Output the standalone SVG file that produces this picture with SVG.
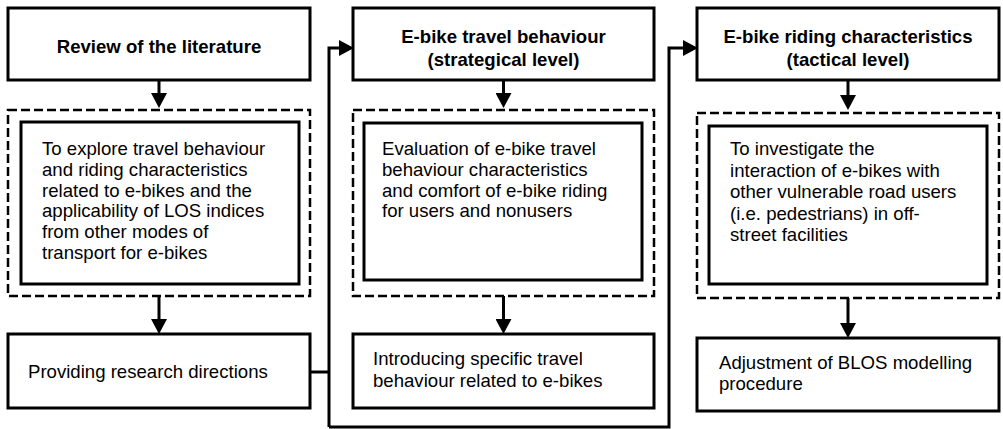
<svg xmlns="http://www.w3.org/2000/svg" width="1003" height="429" viewBox="0 0 1003 429">
<style>
.box{fill:#fff;stroke:#000;stroke-width:3}
.dash{fill:none;stroke:#000;stroke-width:2.5;stroke-dasharray:9 4}
.t{font-family:"Liberation Sans",Arial,sans-serif;font-size:18.6px;fill:#000}
.b{font-weight:bold;text-anchor:middle}
.con{fill:none;stroke:#000;stroke-width:3}
</style>
<defs>
<marker id="arr" markerUnits="userSpaceOnUse" markerWidth="16" markerHeight="16" refX="0" refY="8" orient="auto">
<path d="M0,0 L15,8 L0,16 Z" fill="#000"/>
</marker>
</defs>
<rect width="1003" height="429" fill="#fff"/>

<g id="connectors">
<line class="con" x1="159" y1="80" x2="159" y2="93" marker-end="url(#arr)"/>
<line class="con" x1="159" y1="296" x2="159" y2="319" marker-end="url(#arr)"/>
<line class="con" x1="503.5" y1="80" x2="503.5" y2="93" marker-end="url(#arr)"/>
<line class="con" x1="503.5" y1="296" x2="503.5" y2="319" marker-end="url(#arr)"/>
<line class="con" x1="848" y1="80" x2="848" y2="95" marker-end="url(#arr)"/>
<line class="con" x1="848" y1="298" x2="848" y2="323" marker-end="url(#arr)"/>
<line class="con" x1="310" y1="372" x2="329" y2="372"/>
<polyline class="con" points="329,427 329,48 339,48" marker-end="url(#arr)"/>
<polyline class="con" points="329,427 669,427 669,48 683,48" marker-end="url(#arr)"/>
</g>

<g id="review">
<rect class="box" x="8" y="8" width="302" height="72"/>
<text class="t b" x="159" y="53">Review of the literature</text>
</g>

<g id="explore">
<rect class="dash" x="8" y="110" width="302" height="186"/>
<rect class="box" x="21" y="122" width="278" height="162"/>
<text class="t" x="42" y="155">To explore travel behaviour</text>
<text class="t" x="42" y="176">and riding characteristics</text>
<text class="t" x="42" y="197">related to e-bikes and the</text>
<text class="t" x="42" y="217">applicability of LOS indices</text>
<text class="t" x="42" y="238">from other modes of</text>
<text class="t" x="42" y="259">transport for e-bikes</text>
</g>

<g id="directions">
<rect class="box" x="8" y="334" width="302" height="74"/>
<text class="t" x="28" y="378">Providing research directions</text>
</g>

<g id="travel">
<rect class="box" x="353" y="8" width="301" height="72"/>
<text class="t b" x="503.5" y="43">E-bike travel behaviour</text>
<text class="t b" x="503.5" y="66">(strategical level)</text>
</g>

<g id="evaluation">
<rect class="dash" x="353" y="110" width="301" height="186"/>
<rect class="box" x="364" y="123" width="278" height="157"/>
<text class="t" x="382" y="155">Evaluation of e-bike travel</text>
<text class="t" x="382" y="176">behaviour characteristics</text>
<text class="t" x="382" y="197">and comfort of e-bike riding</text>
<text class="t" x="382" y="217">for users and nonusers</text>
</g>

<g id="introducing">
<rect class="box" x="353" y="334" width="301" height="74"/>
<text class="t" x="373" y="365">Introducing specific travel</text>
<text class="t" x="373" y="387">behaviour related to e-bikes</text>
</g>

<g id="riding">
<rect class="box" x="697" y="8" width="302" height="72"/>
<text class="t b" x="848" y="43">E-bike riding characteristics</text>
<text class="t b" x="848" y="66">(tactical level)</text>
</g>

<g id="investigate">
<rect class="dash" x="697" y="113" width="302" height="185"/>
<rect class="box" x="709" y="126" width="278" height="158"/>
<text class="t" x="730" y="155">To investigate the</text>
<text class="t" x="730" y="176.5">interaction of e-bikes with</text>
<text class="t" x="730" y="198">other vulnerable road users</text>
<text class="t" x="730" y="219.5">(i.e. pedestrians) in off-</text>
<text class="t" x="730" y="241">street facilities</text>
</g>

<g id="adjustment">
<rect class="box" x="697" y="338" width="302" height="73"/>
<text class="t" x="719" y="369">Adjustment of BLOS modelling</text>
<text class="t" x="719" y="390">procedure</text>
</g>
</svg>
